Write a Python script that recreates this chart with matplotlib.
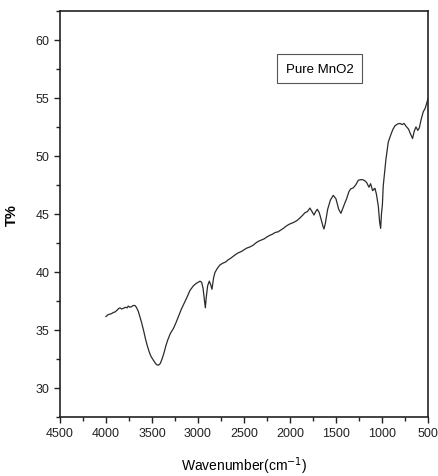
import matplotlib
matplotlib.use("Agg")
import matplotlib.pyplot as plt
from matplotlib.ticker import MultipleLocator

# FTIR spectrum of pure MnO2
wavenumber = [
    4000, 3980, 3960, 3940, 3920, 3900, 3880, 3860, 3848, 3830, 3812, 3790, 3770,
    3758, 3740, 3721, 3705, 3685, 3670, 3649, 3630, 3612, 3590, 3570, 3550, 3530,
    3510, 3490, 3470, 3450, 3430, 3410, 3390, 3370, 3350, 3330, 3300, 3268, 3240,
    3210, 3180, 3150, 3120, 3087, 3050, 3020, 2990, 2978, 2960, 2945, 2930, 2920,
    2910, 2895, 2877, 2862, 2848, 2830, 2815, 2790, 2761, 2730, 2700, 2670, 2640,
    2616, 2590, 2560, 2530, 2500, 2470, 2435, 2400, 2370, 2340, 2310, 2280, 2253,
    2220, 2190, 2160, 2130, 2100, 2072, 2040, 2010, 1980, 1950, 1920, 1891, 1860,
    1837, 1810, 1783, 1760, 1739, 1720, 1703, 1681, 1660, 1640, 1630, 1615, 1590,
    1560, 1529, 1500, 1470, 1446, 1420, 1400, 1384, 1360, 1340, 1311, 1285, 1257,
    1230, 1209, 1185, 1166, 1141, 1123, 1101, 1085, 1076, 1060, 1040, 1025, 1014,
    1005, 995, 986, 970, 956, 931, 900, 880, 858, 830, 804, 780, 760, 732, 710,
    690, 667, 650, 630, 610, 594, 575, 551, 530, 515, 500,
]
transmittance = [
    36.15, 36.3, 36.35, 36.4, 36.5, 36.55, 36.7, 36.85, 36.9, 36.8, 36.85, 36.95, 36.9,
    37.05, 36.95, 37.0, 37.1, 37.1, 36.95, 36.6, 36.1, 35.6, 34.9, 34.2, 33.6, 33.1,
    32.7, 32.45, 32.2, 32.0, 31.95, 32.1, 32.5, 33.0, 33.6, 34.1, 34.7, 35.1, 35.6,
    36.2, 36.8, 37.3, 37.8, 38.4, 38.8, 39.0, 39.15, 39.2, 39.1, 38.6, 37.6, 36.9,
    37.8, 38.8, 39.2, 38.9, 38.5, 39.5, 39.95, 40.3, 40.6, 40.75, 40.85, 41.05, 41.2,
    41.35, 41.5, 41.65, 41.75, 41.9, 42.05, 42.15, 42.3, 42.5, 42.65, 42.75, 42.85, 43.0,
    43.15, 43.25, 43.4, 43.45, 43.6, 43.75, 43.95, 44.1, 44.2, 44.3, 44.45, 44.65, 44.9,
    45.1, 45.2, 45.5, 45.2, 44.9, 45.2, 45.4, 45.1, 44.5, 43.9, 43.7, 44.2, 45.4,
    46.2, 46.6, 46.3, 45.4, 45.05, 45.6, 46.0, 46.3, 46.9, 47.15, 47.25, 47.5, 47.9,
    47.95, 47.95, 47.85, 47.7, 47.3, 47.6, 47.0, 47.15, 47.2, 46.7, 45.7, 44.3, 43.75,
    45.0, 45.8, 47.4, 48.7, 49.75, 51.2, 51.9, 52.3, 52.6, 52.75, 52.8, 52.7, 52.8, 52.5, 52.3,
    51.9, 51.5, 52.1, 52.5, 52.2, 52.4, 53.1, 53.8, 54.1, 54.5, 54.9,
]

plt.rcParams["font.family"] = ["Liberation Sans", "DejaVu Sans"]

fig = plt.figure(figsize=(4.38, 4.77), dpi=100)
ax = fig.add_axes([0.137, 0.124, 0.840, 0.851])

ax.plot(wavenumber, transmittance, color="#2b2b2b", lw=0.9)

ax.set_xlim(4500, 500)
ax.set_ylim(27.5, 62.5)
ax.xaxis.set_major_locator(MultipleLocator(500))
ax.xaxis.set_minor_locator(MultipleLocator(250))
ax.yaxis.set_minor_locator(MultipleLocator(2.5))
ax.set_yticks([30, 35, 40, 45, 50, 55, 60])
ax.tick_params(which="both", direction="out", top=False, right=False,
               labelsize=9, width=1.0, colors="#222222")
ax.tick_params(which="major", length=4)
ax.tick_params(which="minor", length=3)
for s in ax.spines.values():
    s.set_linewidth(1.2)
    s.set_color("#222222")

ax.set_xlabel("Wavenumber(cm$^{-1}$)", fontsize=10, labelpad=11)
ax.set_ylabel("T%", fontsize=10.5, fontweight="bold", labelpad=12)

ax.text(1680, 57.5, "Pure MnO2", fontsize=9.5, ha="center", va="center",
        bbox=dict(boxstyle="square,pad=0.65", fc="white", ec="#555555", lw=0.8))

fig.savefig("out.png", dpi=100)
